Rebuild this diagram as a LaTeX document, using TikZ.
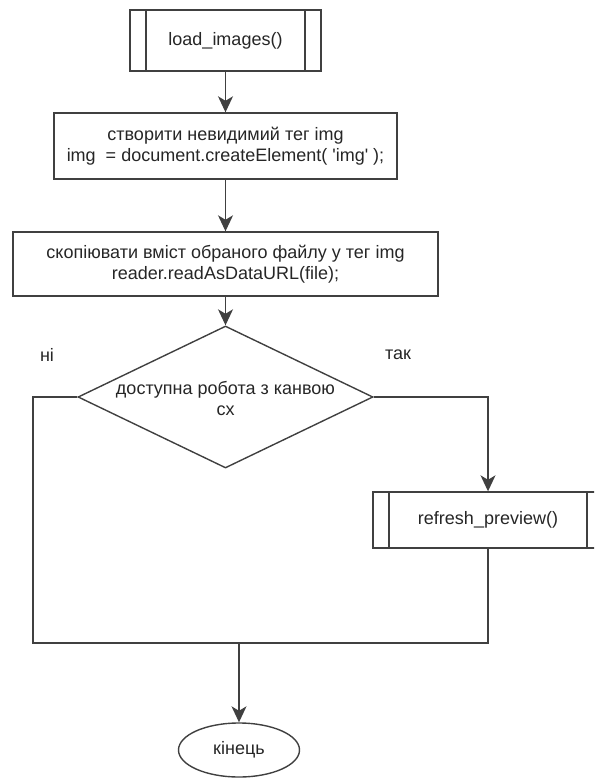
\documentclass[tikz,border=0pt]{standalone}
\usepackage{fontspec}
\setmainfont{Liberation Sans}
\usetikzlibrary{shapes.geometric,arrows.meta}

\tikzset{
  line/.style={draw=black!75, line width=1.4pt},
  block/.style={line, rectangle, align=center, inner sep=0pt, text=black!85},
  subproc/.style={block,
    path picture={
      \draw[line] ([xshift=16pt]path picture bounding box.north west) -- ([xshift=16pt]path picture bounding box.south west);
      \draw[line] ([xshift=-16pt]path picture bounding box.north east) -- ([xshift=-16pt]path picture bounding box.south east);
    }},
  decision/.style={line, diamond, inner sep=0pt},
  terminal/.style={line, ellipse, inner sep=0pt, text=black!85},
  caption/.style={text=black!85, inner sep=0pt, align=center},
  flow/.style={line, -{Stealth[length=16pt, width=15pt, inset=4.5pt]}},
  wire/.style={line}
}

\begin{document}
\begin{tikzpicture}[x=1pt, y=-1pt, font=\fontsize{18}{21}\selectfont]
  \useasboundingbox (0,0) rectangle (594,778);
  \clip (0,0) rectangle (594,778);

  % process blocks
  \node[subproc, minimum width=191pt, minimum height=61pt] (load) at (225.5,40.5) {load\_images()};
  \node[block, minimum width=343pt, minimum height=66pt] (create) at (225.5,146) {створити невидимий тег img\\img~ = document.createElement( \textquotesingle img\textquotesingle{} );};
  \node[block, minimum width=425pt, minimum height=64pt] (copy) at (225.5,264) {скопіювати вміст обраного файлу у тег img\\reader.readAsDataURL(file);};

  % decision
  \node[decision, minimum width=295pt, minimum height=142pt] (canvas) at (225.5,397) {};
  \node[caption] (canvastxt) at (225.5,398) {доступна робота з канвою\\сх};
  \node[caption] (no) at (47,355) {ні};
  \node[caption] (yes) at (398,355) {так};

  % "yes" branch
  \node[subproc, minimum width=230pt, minimum height=56pt] (refresh) at (488,520) {refresh\_preview()};

  % end
  \node[terminal, minimum width=121pt, minimum height=54pt] (finish) at (239,750) {кінець};

  % junction points of the merge line
  \coordinate (joinL) at (33,643);
  \coordinate (joinR) at (488,643);
  \coordinate (joinM) at (239,643);

  % connectors
  \draw[flow] (load) -- (create);
  \draw[flow] (create) -- (copy);
  \draw[flow] (copy) -- (canvas.north);
  \draw[flow] (canvas.east) -| (refresh.north);
  \draw[wire] (canvas.west) -| (joinL) -- (joinR) -- (refresh.south);
  \draw[flow] (joinM) -- (finish.north);
\end{tikzpicture}
\end{document}
